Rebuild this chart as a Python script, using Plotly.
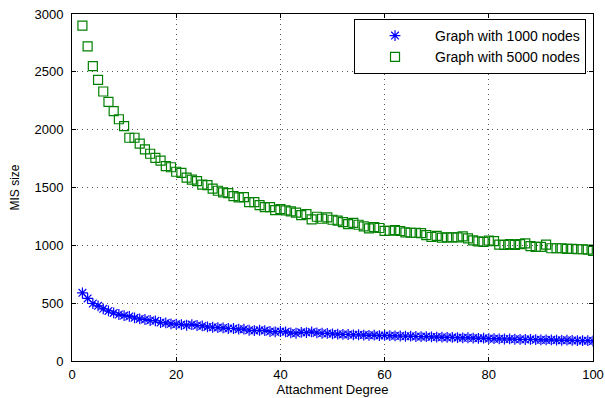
import plotly.graph_objects as go

# Attachment degree values (x) shared by both series
degree = list(range(2, 101))

# MIS size for the 1000-node graph
mis_1000 = [589, 541, 497, 477, 451, 433, 416, 402, 393, 385,
            373, 364, 359, 350, 347, 333, 329, 321, 318, 315,
            309, 315, 307, 303, 295, 292, 289, 286, 281, 281,
            275, 275, 266, 263, 266, 263, 255, 252, 255, 252,
            243, 240, 248, 246, 251, 244, 240, 238, 235, 232,
            230, 229, 226, 227, 224, 222, 223, 220, 221, 219,
            218, 216, 214, 215, 212, 210, 211, 208, 207, 206,
            204, 205, 202, 200, 201, 198, 196, 197, 194, 193,
            192, 190, 191, 188, 187, 186, 187, 184, 183, 182,
            183, 180, 179, 180, 178, 177, 176, 176, 173]

# MIS size for the 5000-node graph
mis_5000 = [2900, 2720, 2550, 2430, 2330, 2240, 2160, 2090, 2030, 1930,
            1930, 1880, 1830, 1792, 1756, 1733, 1685, 1675, 1636, 1626,
            1585, 1568, 1555, 1524, 1520, 1491, 1472, 1458, 1451, 1425,
            1414, 1417, 1373, 1373, 1348, 1330, 1330, 1305, 1313, 1302,
            1293, 1282, 1261, 1270, 1224, 1247, 1230, 1241, 1221, 1213,
            1201, 1184, 1195, 1178, 1164, 1147, 1158, 1150, 1125, 1126,
            1131, 1124, 1112, 1109, 1109, 1106, 1089, 1072, 1081, 1066,
            1069, 1069, 1069, 1078, 1060, 1043, 1034, 1029, 1040, 1037,
            1006, 1003, 1011, 1003, 1011, 1017, 994, 986, 986, 1006,
            975, 975, 975, 969, 969, 966, 966, 963, 951]

series_names = ["Graph with 1000 nodes", "Graph with 5000 nodes"]
x_ticks = [0, 20, 40, 60, 80, 100]
y_ticks = [0, 500, 1000, 1500, 2000, 2500, 3000]

FONT = "Liberation Sans, Arial, sans-serif"

fig = go.Figure()
fig.add_trace(go.Scatter(
    x=degree, y=mis_1000, mode="markers", name=series_names[0],
    marker=dict(symbol="asterisk-open", size=9, color="#0000FF",
                line=dict(color="#0000FF", width=1.2)),
))
fig.add_trace(go.Scatter(
    x=degree, y=mis_5000, mode="markers", name=series_names[1],
    marker=dict(symbol="square-open", size=9, color="#008000",
                line=dict(color="#008000", width=1.2)),
))

axis_common = dict(
    showline=True, linecolor="black", linewidth=1, mirror="ticks",
    ticks="inside", ticklen=4, tickcolor="black",
    showgrid=True, gridcolor="#555555", griddash="1px,4px", gridwidth=1,
    zeroline=False, automargin=False,
    tickfont=dict(family=FONT, size=13, color="black"),
)

fig.update_xaxes(range=[0, 100], tickvals=x_ticks, ticklabelstandoff=1,
                 title=dict(text="Attachment Degree", standoff=3,
                            font=dict(family=FONT, size=13, color="black")),
                 **axis_common)
fig.update_yaxes(range=[0, 3000], tickvals=y_ticks, ticklabelstandoff=5,
                 title=dict(text="MIS size", standoff=12,
                            font=dict(family=FONT, size=12, color="black")),
                 **axis_common)

fig.update_layout(
    width=605, height=398,
    margin=dict(l=72, r=12, t=14, b=37),
    paper_bgcolor="white", plot_bgcolor="white",
    showlegend=True,
    legend=dict(
        x=0.9866, y=0.9856, xanchor="right", yanchor="top",
        bgcolor="white", bordercolor="black", borderwidth=1,
        font=dict(family=FONT, size=14, color="black"),
        tracegroupgap=0, itemwidth=70,
    ),
)

fig.write_html("out.html")
